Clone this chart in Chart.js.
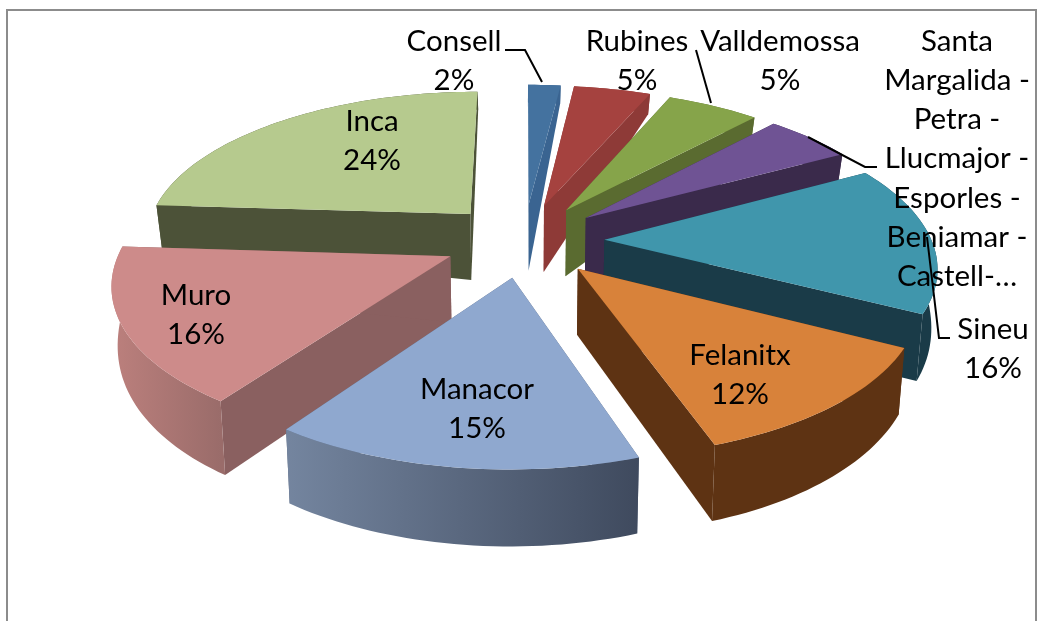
<!DOCTYPE html>
<html><head><meta charset="utf-8">
<style>html,body{margin:0;padding:0;background:#fff}#w{position:relative;width:1038px;height:621px}</style>
<script src="https://cdn.jsdelivr.net/npm/chart.js@4/dist/chart.umd.min.js"></script>
</head><body><div id="w"><canvas id="c" width="1038" height="621"></canvas></div>
<script>
const categories=["Consell","Rubines","Valldemossa","Santa Margalida - Petra - Llucmajor - Esporles - Beniamar - Castell-…","Sineu","Felanitx","Manacor","Muro","Inca"];
const values=[1.9,4.5,5.4,5.2,15.7,12.1,14.9,16.3,24.0];
const topColors=["#44729f","#a5423f","#86a44a","#6f5394","#4096ac","#d8823a","#8fa8cf","#cd8b8a","#b6ca8e"];
const cutColors=["#3a6491","#8e3a37","#5a6b30","#3a2a4b","#1a3b48","#5e3313","#5a6880","#8a6060","#4c5238"];
const arcWallA=["#3a6491","#8e3a37","#5a6b30","#3a2a4b","#1a3b48","#5e3313","#3f4a5e","#9a6c6a","#4c5238"];
const arcWallB=["#3a6491","#8e3a37","#5a6b30","#3a2a4b","#1a3b48","#5e3313","#74859f","#bc807d","#4c5238"];
const paintOrder=[0,1,2,3,4,5,8,7,6];
const FONT='29.5px Lato, Carlito, sans-serif';
const labelLayout=[
 {x:454,y:41,lines:["Consell","2%"]},
 {x:637,y:41,lines:["Rubines","5%"]},
 {x:780,y:41,lines:["Valldemossa","5%"]},
 {x:957,y:41,lines:["Santa","Margalida -","Petra -","Llucmajor -","Esporles -","Beniamar -","Castell-…"]},
 {x:993,y:329,lines:["Sineu","16%"]},
 {x:740,y:355,lines:["Felanitx","12%"]},
 {x:477,y:389,lines:["Manacor","15%"]},
 {x:196,y:295,lines:["Muro","16%"]},
 {x:372,y:121,lines:["Inca","24%"]}
];
const leaders=[
 [[505,50],[525,50],[542,82]],
 [[696,50],[711,103]],
 [[877,167],[865,167],[808,137]],
 [[927,237],[939,338],[950,338]]
];
const CX=524,CY=240,K=0.455,D=2100,PLANE_R=327;
function proj(u,v){const s=1/(1-v/D);return [CX+u*s,CY+K*v*s];}
function rimDepth(a){const c=-Math.sin(a);return c>0?45-27*c:45+32*Math.sqrt(-c);}
const TIP_DEPTH=66;
function bottom(p,frac,a){const h=TIP_DEPTH+(rimDepth(a)-TIP_DEPTH)*frac;return [CX+(p[0]-CX)*0.985,p[1]+h];}
function path(ctx,pts){ctx.beginPath();pts.forEach((p,i)=>i?ctx.lineTo(p[0],p[1]):ctx.moveTo(p[0],p[1]));ctx.closePath();}
const pie3d={id:'pie3d',
 beforeDraw(chart){const ctx=chart.ctx;ctx.save();ctx.fillStyle='#fff';ctx.fillRect(0,0,1038,621);
  ctx.strokeStyle='#8c8c8c';ctx.lineWidth=2;ctx.strokeRect(7,10,1029,640);ctx.restore();},
 beforeDatasetDraw(chart){
  const ctx=chart.ctx,arcs=chart.getDatasetMeta(0).data;
  paintOrder.forEach(i=>{
   const arc=arcs[i],off=arc.options.offset,r=arc.outerRadius,sc=PLANE_R/r;
   const mid=(arc.startAngle+arc.endAngle)/2;
   const ou=Math.cos(mid)*off*sc,ov=Math.sin(mid)*off*sc;
   const n=Math.max(4,Math.ceil((arc.endAngle-arc.startAngle)*40));
   const rim=[],angs=[];
   for(let k=0;k<=n;k++){const a=arc.startAngle+(arc.endAngle-arc.startAngle)*k/n;angs.push(a);
     rim.push(proj(ou+Math.cos(a)*PLANE_R,ov+Math.sin(a)*PLANE_R));}
   const tip=proj(ou,ov),tipB=bottom(tip,0,mid);
   const rimB=rim.map((p,k)=>bottom(p,1,angs[k]));
   ctx.save();
   ctx.fillStyle=cutColors[i];
   path(ctx,[tip,rim[0],rimB[0],tipB]);ctx.fill();
   path(ctx,[tip,rim[n],rimB[n],tipB]);ctx.fill();
   const xs=rim.map(p=>p[0]);
   const g=ctx.createLinearGradient(Math.min(...xs),0,Math.max(...xs),0);
   g.addColorStop(0,arcWallB[i]);g.addColorStop(1,arcWallA[i]);
   ctx.fillStyle=g;
   path(ctx,rim.concat(rimB.slice().reverse()));ctx.fill();
   ctx.fillStyle=topColors[i];
   path(ctx,[tip].concat(rim));ctx.fill();
   ctx.restore();
  });
  return false;
 },
 afterDraw(chart){
  const ctx=chart.ctx;ctx.save();
  ctx.font=FONT;ctx.fillStyle='#000';ctx.textAlign='center';ctx.textBaseline='middle';
  labelLayout.forEach(l=>l.lines.forEach((t,j)=>ctx.fillText(t,l.x,l.y+j*39.3)));
  ctx.strokeStyle='#000';ctx.lineWidth=2;
  leaders.forEach(pts=>{ctx.beginPath();pts.forEach((p,i)=>i?ctx.lineTo(p[0],p[1]):ctx.moveTo(p[0],p[1]));ctx.stroke();});
  ctx.restore();
 }
};
new Chart(document.getElementById('c'),{type:'pie',plugins:[pie3d],
 data:{labels:categories,datasets:[{data:values,backgroundColor:topColors,offset:68,borderWidth:0}]},
 options:{responsive:false,animation:false,plugins:{legend:{display:false},tooltip:{enabled:false}},layout:{padding:0}}
});
</script></body></html>
